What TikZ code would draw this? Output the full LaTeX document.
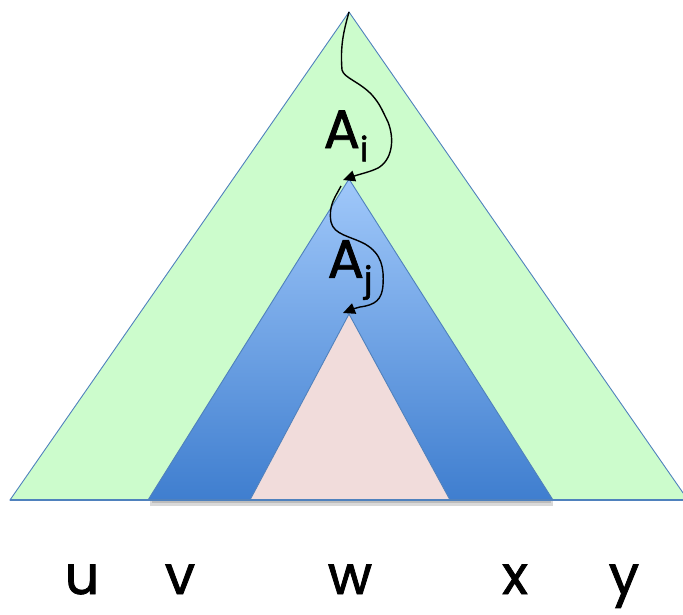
\documentclass[tikz,border=0pt]{standalone}
\usepackage{fontspec}
\setmainfont{Poppins}
\newfontfamily\lblfont[FakeBold=1.5]{Poppins}
\usetikzlibrary{arrows.meta}
\definecolor{gfill}{HTML}{CCFCCC}
\definecolor{edge}{HTML}{4F81BD}
\definecolor{btop}{HTML}{A0C8FA}
\definecolor{bbot}{HTML}{3F7ECF}
\definecolor{pfill}{HTML}{F1DCDB}
\tikzset{
  tri/.style={draw=edge, line width=0.9pt, line join=miter},
  lbl/.style={font=\lblfont\fontsize{54}{54}\selectfont, inner sep=0pt},
  wig/.style={line width=1.4pt, line join=round, -{Triangle[length=12pt,width=11pt]}},
}
\begin{document}
\begin{tikzpicture}[x=1pt,y=-1pt]
\useasboundingbox (0,0) rectangle (683,615);
% soft shadow under base
\fill[black!60, opacity=0.25] (150,500) rectangle (553,506);
\fill[black!60, opacity=0.25] (152,500) rectangle (551,503);
% green triangle
\coordinate (gA) at (349,12);
\coordinate (gL) at (10,500);
\coordinate (gR) at (688,500);
\fill[gfill] (gA) -- (gL) -- (gR) -- cycle;
\draw[tri] (gR) -- (gA) -- (gL) -- cycle;
% blue triangle
\coordinate (bA) at (349,179);
\shade[top color=btop, bottom color=bbot, shading angle=0] (bA) -- (148,500) -- (553,500) -- cycle;
\draw[edge, line width=0.9pt] (148,500) -- (bA) -- (553,500);
% pink triangle
\coordinate (pA) at (349,314);
\fill[pfill] (pA) -- (250,500) -- (450,500) -- cycle;
\draw[edge, line width=0.9pt] (250,500) -- (pA) -- (450,500);
\draw[edge, line width=1.2pt] (gL) -- (gR);
% labels
\node[lbl] (Ai) at (346,136) {A\raisebox{-0.45ex}{\lblfont\fontsize{34}{34}\selectfont i}};
\node[lbl] (Aj) at (350,270) {A\raisebox{-0.45ex}{\lblfont\fontsize{34}{34}\selectfont j}};
% wiggly arrows
\draw[wig] (gA) .. controls (344,30) and (340,45) .. (342,70)
  .. controls (344,78) and (360,82) .. (372,95)
  .. controls (380,104) and (382,110) .. (388,122)
  .. controls (395,140) and (392,160) .. (378,168)
  .. controls (370,172) and (360,174) .. (343,180);
\draw[wig] (341,186) .. controls (336,196) and (328,205) .. (331,222)
  .. controls (334,235) and (350,236) .. (365,244)
  .. controls (382,254) and (384,268) .. (383,285)
  .. controls (382,300) and (375,305) .. (360,307)
  .. controls (352,309) and (348,311) .. (343,313);
% bottom letters
\node[lbl, anchor=base] (u) at (82,594) {u};
\node[lbl, anchor=base] (v) at (180,594) {v};
\node[lbl, anchor=base] (w) at (350,594) {w};
\node[lbl, anchor=base] (x) at (515,594) {x};
\node[lbl, anchor=base] (y) at (624,594) {y};
\end{tikzpicture}
\end{document}
